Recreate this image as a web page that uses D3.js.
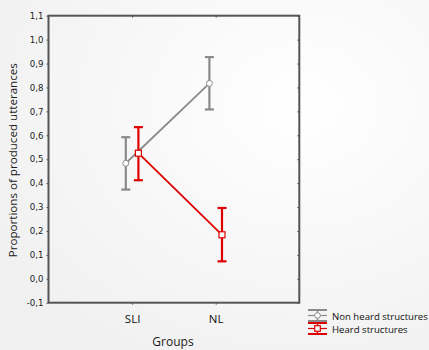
<!DOCTYPE html>
<html>
<head>
<meta charset="utf-8">
<script src="https://cdn.jsdelivr.net/npm/d3@7"></script>
<style>
  html, body { margin: 0; padding: 0; }
  svg { display: block; }
</style>
</head>
<body>
<svg id="chart" width="429" height="350"></svg>
<script>
// data
const groups = ['SLI', 'NL'];
const seriesNames = ['Non heard structures', 'Heard structures'];
const nonHeardMean = [0.483, 0.817];
const nonHeardLow = [0.373, 0.708];
const nonHeardHigh = [0.592, 0.927];
const heardMean = [0.525, 0.184];
const heardLow = [0.412, 0.073];
const heardHigh = [0.634, 0.296];
const yTicks = [-0.1, 0, 0.1, 0.2, 0.3, 0.4, 0.5, 0.6, 0.7, 0.8, 0.9, 1.0, 1.1];

const series = [
  { name: seriesNames[0], mean: nonHeardMean, low: nonHeardLow, high: nonHeardHigh, color: '#8a8a8a', marker: 'circle', offset: -6.3 },
  { name: seriesNames[1], mean: heardMean, low: heardLow, high: heardHigh, color: '#dd0000', marker: 'square', offset: 6.3 }
];

const svg = d3.select('#chart');
const margin = { left: 48.5, right: 129.7, top: 15.7, bottom: 47.3 };
const width = 429 - margin.left - margin.right;
const height = 350 - margin.top - margin.bottom;

// soft vignette background
const defs = svg.append('defs');
const grad = defs.append('radialGradient').attr('id', 'bg')
  .attr('cx', '70%').attr('cy', '30%').attr('r', '85%');
grad.append('stop').attr('offset', '0%').attr('stop-color', '#ffffff');
grad.append('stop').attr('offset', '100%').attr('stop-color', '#f0f0f0');
svg.append('rect').attr('width', 429).attr('height', 350).attr('fill', 'url(#bg)');

const x = d3.scalePoint().domain(['', ...groups, ' ']).range([0, width]);
const y = d3.scaleLinear().domain([-0.1, 1.1]).range([height, 0]);

const g = svg.append('g').attr('transform', `translate(${margin.left},${margin.top})`);

const axisColor = '#555';
const fmt = d => d3.format('.1f')(d).replace('.', ',').replace('−', '-');

// left axis
const leftAxis = g.append('g')
  .call(d3.axisLeft(y).tickValues(yTicks).tickSize(2).tickPadding(3).tickFormat(fmt));
leftAxis.selectAll('text').attr('font-family', 'DejaVu Sans').attr('font-size', 8.6).attr('fill', '#1a1a1a');
// right axis (inner ticks)
const rightAxis = g.append('g').attr('transform', `translate(${width},0)`)
  .call(d3.axisLeft(y).tickValues(yTicks).tickSize(2).tickFormat(''));
// bottom axis
const bottomAxis = g.append('g').attr('transform', `translate(0,${height})`)
  .call(d3.axisBottom(x).tickValues(groups).tickSize(2).tickPadding(10));
bottomAxis.selectAll('text').attr('font-family', 'Open Sans').attr('font-size', 11.5).attr('fill', '#111');
// top axis (inner ticks)
const topAxis = g.append('g')
  .call(d3.axisBottom(x).tickValues(groups).tickSize(2).tickFormat(''));

[leftAxis, rightAxis, bottomAxis, topAxis].forEach(a => {
  a.select('.domain').remove();
  a.selectAll('line').attr('stroke', axisColor).attr('stroke-width', 1);
});

// frame
g.append('rect').attr('width', width).attr('height', height)
  .attr('fill', 'none').attr('stroke', axisColor).attr('stroke-width', 2);

// series
series.forEach(s => {
  const px = i => x(groups[i]) + s.offset;
  const line = d3.line().x((d, i) => px(i)).y(d => y(d));
  g.append('path').datum(s.mean).attr('d', line)
    .attr('fill', 'none').attr('stroke', s.color).attr('stroke-width', 1.8);

  groups.forEach((grp, i) => {
    const cx = px(i);
    const eb = g.append('g').attr('stroke', s.color).attr('stroke-width', 2.2);
    eb.append('line').attr('x1', cx).attr('x2', cx).attr('y1', y(s.low[i])).attr('y2', y(s.high[i]));
    eb.append('line').attr('x1', cx - 4.5).attr('x2', cx + 4.5).attr('y1', y(s.low[i])).attr('y2', y(s.low[i]));
    eb.append('line').attr('x1', cx - 4.5).attr('x2', cx + 4.5).attr('y1', y(s.high[i])).attr('y2', y(s.high[i]));
  });

  groups.forEach((grp, i) => {
    const cx = px(i), cy = y(s.mean[i]);
    if (s.marker === 'circle') {
      g.append('circle').attr('cx', cx).attr('cy', cy).attr('r', 3)
        .attr('fill', '#fff').attr('stroke', s.color).attr('stroke-width', 1);
    } else {
      g.append('rect').attr('x', cx - 3).attr('y', cy - 3).attr('width', 6).attr('height', 6)
        .attr('fill', '#fff').attr('stroke', s.color).attr('stroke-width', 1.2);
    }
  });
});

// axis titles
svg.append('text')
  .attr('transform', `translate(17,${margin.top + height / 2 + 1}) rotate(-90)`)
  .attr('text-anchor', 'middle')
  .attr('font-family', 'Open Sans').attr('font-size', 11.6).attr('fill', '#1a1a1a')
  .text('Proportions of produced utterances');
svg.append('text')
  .attr('x', 173).attr('y', 346)
  .attr('text-anchor', 'middle')
  .attr('font-family', 'Open Sans').attr('font-size', 12).attr('fill', '#1a1a1a')
  .text('Groups');

// legend
const legend = svg.append('g').attr('transform', 'translate(308,310)');
series.forEach((s, i) => {
  const row = legend.append('g').attr('transform', `translate(0,${i * 13})`);
  row.append('line').attr('x1', 0).attr('x2', 19).attr('y1', 0).attr('y2', 0)
    .attr('stroke', s.color).attr('stroke-width', 2);
  row.append('line').attr('x1', 0).attr('x2', 19).attr('y1', 11).attr('y2', 11)
    .attr('stroke', s.color).attr('stroke-width', 2);
  row.append('line').attr('x1', 0).attr('x2', 19).attr('y1', 5.5).attr('y2', 5.5)
    .attr('stroke', s.color).attr('stroke-width', 1.2);
  row.append('line').attr('x1', 9.5).attr('x2', 9.5).attr('y1', 0).attr('y2', 11)
    .attr('stroke', s.color).attr('stroke-width', 1.5);
  if (s.marker === 'circle') {
    row.append('circle').attr('cx', 9.5).attr('cy', 5.5).attr('r', 2.8)
      .attr('fill', '#fff').attr('stroke', s.color);
  } else {
    row.append('rect').attr('x', 6.7).attr('y', 2.7).attr('width', 5.6).attr('height', 5.6)
      .attr('fill', '#fff').attr('stroke', s.color).attr('stroke-width', 1.2);
  }
  row.append('text').attr('x', 24).attr('y', 9.5)
    .attr('font-family', 'Open Sans').attr('font-size', 9.6).attr('fill', '#111')
    .text(s.name);
});
</script>
</body>
</html>
